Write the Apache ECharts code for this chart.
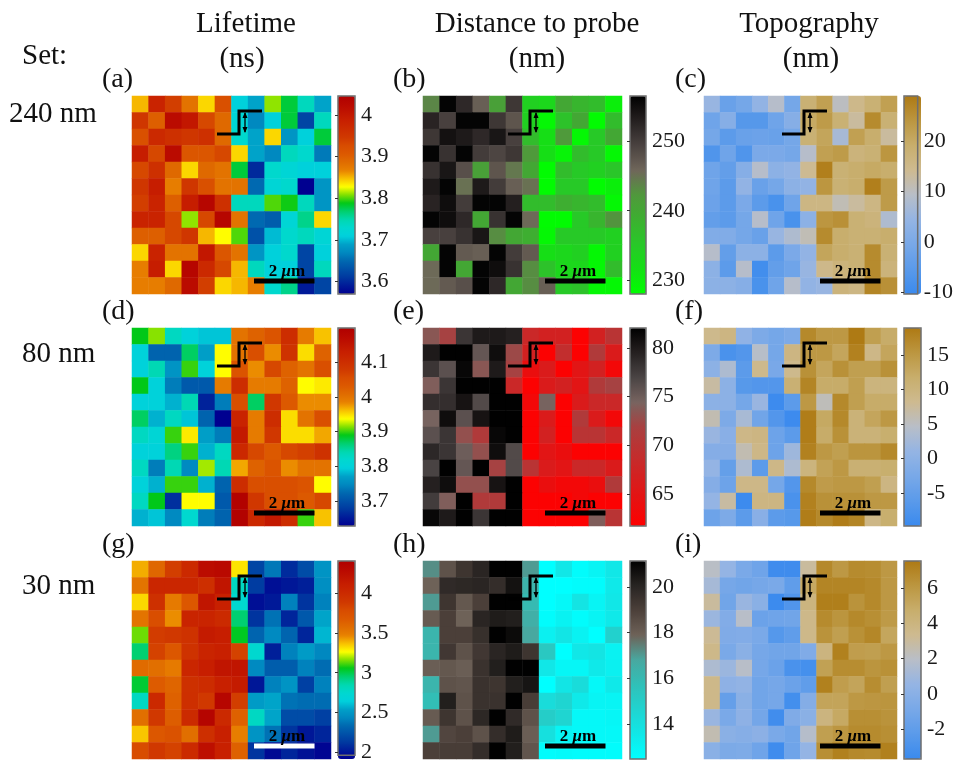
<!DOCTYPE html>
<html><head><meta charset="utf-8">
<style>html,body{margin:0;padding:0;background:#fff}#c{width:956px;height:763px}</style>
<script src="https://cdn.jsdelivr.net/npm/echarts@6/dist/echarts.min.js"></script></head>
<body><div id="c"></div>
<script>
const lifetime240=[
[3.85,3.98,3.94,3.88,3.84,3.92,3.71,3.69,3.81,3.78,3.74,3.69],
[3.95,3.90,4.02,4.00,3.93,3.89,3.72,3.67,3.71,3.78,3.62,3.74],
[3.92,3.97,3.96,3.95,3.96,3.89,3.73,3.69,3.84,3.68,3.71,3.78],
[3.99,3.93,4.02,3.91,3.91,3.93,3.84,3.69,3.67,3.74,3.73,3.66],
[3.93,3.96,3.89,3.84,3.89,3.88,3.78,3.60,3.73,3.72,3.71,3.71],
[3.95,3.99,3.87,3.95,3.92,3.88,3.88,3.65,3.72,3.73,3.57,3.68],
[3.94,3.98,3.90,3.99,4.03,3.96,3.74,3.74,3.80,3.79,3.74,3.68],
[3.98,3.98,3.93,3.81,3.93,4.03,3.88,3.65,3.64,3.72,3.76,3.84],
[3.90,3.90,3.93,3.95,3.85,3.828,3.80,3.63,3.70,3.73,3.74,3.72],
[3.84,3.98,3.88,3.88,4.00,3.91,3.88,3.68,3.71,3.73,3.62,3.71],
[3.87,3.99,3.84,4.03,3.97,3.93,3.85,3.74,3.71,3.71,3.62,3.74],
[3.87,3.87,3.89,4.02,3.94,3.84,3.85,3.87,3.73,3.76,3.59,3.62]];
const distance240=[
[243.5,256,252,246.5,241,250.5,234,233,240,238,237,230],
[252.5,249.5,256,256,250.5,247.5,234,229,236,240,228.5,237],
[250.5,254.5,253.5,252,254,249.5,237,232,242,229,235,240],
[256,251,256,250,249,250.5,242,232,229.5,237,235,229],
[251,254,248,241,247.5,244.5,240,228.5,237,235,234,235.5],
[253.5,256,245,253.5,250,246.5,245,228.5,235,235,228.5,230],
[252.5,255,250,256,256,253,237,237,239,238,237,229],
[256,255,252,240,251,256,245.5,228.5,228.5,235,238,242.5],
[249.5,249.5,251,254,243,240,239,229,235,235,235,234],
[240,256,247,246.5,256,250,247,232,233,234,229,234],
[245.5,256,240,256,255,251,243,236,233,233,229,237],
[245.5,247,248,256,252,240,243,246.5,235,236,229,229]];
const topo240=[
[5,-3,-1,4,9,-1,18,22,10,15,18,22],
[-2,2,-6,-6,-2,2,20,23,18,13,26,18],
[-1,-5,-3,-2.5,-3,-1,18,21,7,22,19,13],
[-7,-2,-7,0,0,-1,9,22,23,17,18,24],
[-2,-4,2,9,3,4,14,28,18,19,20,19],
[-2,-5,4,-3,-1,3,4,24,18,19,28,23],
[-2.5,-5,0,-5,-8,-2,16,16,11,13,16,23],
[-4,-5,-1,9,-2,-8,3,24,25,18,17,8],
[1,1,-1,-3,5,8,11,26,19,18,18,19],
[9,-4,3,3,-5,0,4,21,19,18,26,18],
[3,-5,9,-9,-4,-2,5,15,17,18,26,17],
[3,3,2,-8,-2,9,4,5,17,16,27,25]];
const lifetime80=[
[3.89,3.915,3.83,3.80,3.79,3.79,4.00,4.02,4.04,4.10,3.99,3.96],
[3.80,3.72,3.72,3.87,3.77,3.938,4.00,4.05,3.98,4.09,3.95,4.02],
[3.80,3.84,3.76,3.90,3.80,3.938,4.04,3.98,4.06,4.02,4.00,4.05],
[3.89,3.80,3.74,3.71,3.71,3.99,4.10,3.99,3.99,4.02,3.938,3.945],
[3.80,3.80,3.78,3.84,3.66,3.74,4.05,3.87,4.08,4.03,3.98,3.98],
[3.87,3.78,3.83,3.79,3.72,3.63,4.12,3.99,4.10,3.95,4.00,4.05],
[3.83,3.81,3.90,3.945,3.77,3.74,4.14,3.99,4.08,3.95,3.95,3.97],
[3.80,3.80,3.86,3.90,3.78,3.83,4.11,4.06,4.03,4.06,4.07,4.09],
[3.83,3.74,3.84,3.75,3.92,3.84,3.97,4.02,4.04,3.98,4.00,4.00],
[3.80,3.78,3.90,3.90,3.78,3.72,4.10,4.05,4.05,4.05,4.04,3.938],
[3.83,3.89,3.67,3.938,3.938,3.71,4.19,4.08,4.05,4.05,4.03,4.06],
[3.78,3.79,3.75,3.82,3.74,3.72,4.19,4.11,4.14,4.10,3.90,3.96]];
const distance80=[
[73.5,72,78,80,80,79.5,68,67,67,62,67,70],
[80,82,82,75.5,81,72.5,67,62,69,62,71,66],
[78,76,81.5,73.5,80,72,64,66,62,65,67,63],
[74,78,82,82,82,68,62,66,67,65,71,72],
[78.5,78.5,80.5,76.5,82,82,63,74.5,62,66,68,68],
[74.5,81,76,80.5,82,82,62,66,62,71,66,63],
[76,78,73,71,81.5,82,62,67,62,70,70,68],
[79,78,75,73,81,76.5,62,65,64,62,62,62],
[77,82,75.5,82,72,76.5,70,66,65,68,68,66],
[79.5,81,73,73,80.5,82,62,64,63,63,64,71],
[77.5,74,82,71,71,82,62,62,62,63,62,62],
[81.5,80,82,78,82,82,62,62,62,62,74,70]];
const topo80=[
[8.5,9.5,0.5,-2,-3,-2,17,15,15,19,14,12],
[-2,-8,-7,4.5,-3,9.5,15,15,13,18,9,13],
[0,3.5,-6,8.5,-2.5,8.5,16,13,16,14,14,16],
[7,0,-6.5,-7,-7,11,17.5,12,12,14,10,10],
[0,0,-3,1.5,-9.5,-6,15,5.5,17,14,12,12],
[6,-2,3,-3.5,-7,-9.5,18.5,12.5,17,10.5,13,15],
[1.5,-0.5,9,9.5,-4,-6,18.5,12,16,10.5,10.5,11.5],
[-1,-1,6,9,-4,2,18,15,14,15.5,15.5,17],
[1,-5,3.5,-6,9,3.5,10,13.5,15,11,11,11.5],
[-1,-4,9,9,-3,-7,17,14.5,15,15,14,9.5],
[1,7,-9.5,9.5,9.5,-8,18,16,16,16,15,15],
[-4,-2,-6,-0.5,-6,-6.5,18.5,17,18.5,17.5,9,11.5]];
const lifetime30=[
[3.42,3.62,3.87,4.03,4.27,4.30,3.33,2.22,2.42,2.12,2.25,2.52],
[3.55,4.05,4.05,4.05,3.98,4.2,2.82,2.18,2.02,2.05,2.08,2.50],
[3.35,3.97,3.52,3.70,4.2,4.1,2.78,2.02,2.06,2.45,2.15,2.45],
[3.55,3.78,3.47,4.07,4.07,4.02,2.98,2.15,2.40,2.10,2.30,2.58],
[3.17,3.88,3.9,3.95,4.15,4.12,3.07,2.35,2.48,2.35,2.1,2.62],
[2.98,3.85,3.7,3.95,4.07,4.1,3.85,2.78,2.08,2.45,2.55,2.47],
[3.6,3.58,3.52,4.05,4.12,4.2,4.2,2.48,2.32,2.32,2.45,2.38],
[3.05,3.68,3.63,3.97,4.0,4.1,4.15,2.05,2.45,2.52,2.2,2.45],
[2.82,4.03,3.65,3.98,3.9,4.33,3.87,2.55,2.58,2.4,2.38,2.38],
[3.58,3.9,3.67,4.02,4.35,4.03,3.65,2.82,2.58,2.25,2.25,2.2],
[3.38,3.7,3.75,3.58,3.98,4.1,3.5,2.52,2.4,2.15,2.05,2.1],
[3.8,3.9,3.85,4.02,4.25,4.1,3.65,2.15,2.0,2.1,2.03,1.98]];
const distance30=[
[17.2,18.4,19.4,20,21.1,21.1,17,12.5,13.6,12.6,13,13.6],
[17.9,19.8,19.9,20,19.7,20.6,16.3,12.5,12.5,12.6,12.6,13.5],
[17,19.4,18.2,19,21.1,21.1,16,12.5,12.8,13.8,13,13.6],
[18.1,19,17.9,20,20.3,20.2,16.5,12.6,13.1,12.6,13,13.5],
[16.2,19,19,19.6,21.1,20.8,16.8,13.2,13.7,13.1,12.5,14.8],
[16.2,19.3,18.4,19.3,20,20.3,19.4,15.3,12.5,13.6,13.8,13.1],
[18,18.2,18,19.5,20.2,21.1,21.1,13.6,12.9,12.9,13.5,13.2],
[16.2,18.4,18.3,19.5,19.4,20.2,20.5,12.5,13.7,14.2,12.8,13.5],
[15.8,20.2,18.4,19.5,19.5,21.1,19.1,14.2,14.6,13.5,13,13],
[18.1,19.4,18.4,19.9,21.1,19.8,18.4,15,14.6,12.8,12.8,12.9],
[17,18.8,19,18.4,19.7,20.3,18,14,13,12.8,12.8,12.8],
[19,19.1,19.1,19.7,21.1,20.2,18.3,12.6,12.7,12.6,12.6,12.6]];
const topo30=[
[2,0.5,-0.8,-1.3,-3.5,-3.5,3,6.8,6,6.7,6.6,6],
[1.2,-1,-1.2,-1,-0.8,-2,5,7,7,7,6.8,6],
[3,-1.2,0.7,0,-3.6,-2.7,4,7.3,7.3,6.3,6.8,6],
[0.8,-0.4,1.9,-1.5,-1.3,-1.2,3.6,6.7,6.2,6.8,6.5,5.9],
[3.2,-0.5,-0.4,-0.8,-2.5,-2,3.6,6.3,5.6,6.4,6.9,5.2],
[3.6,-0.8,0,-1,-1.2,-1.2,-0.5,4,7.2,5.7,5.6,6],
[1.5,0.8,1.9,-1,-1.5,-3,-3.2,5.5,6.6,6.6,6.2,6.4],
[3.6,0.2,0.4,-1.2,-1,-1.5,-2,7.2,5.7,5.3,6.6,5.6],
[3.6,-1.8,0,-1.2,-1,-3.3,-0.3,5.3,5.3,6,6.1,6.2],
[0.7,-0.8,0.2,-1.1,-3.4,-0.5,0,4,5,6.5,6.5,6.3],
[2.5,0,-0.2,0.1,-0.8,-1.2,1.8,5.6,6.1,6.7,6.7,6.5],
[0,-0.7,-0.6,-1.3,-3.5,-1.3,0.5,6.5,7.2,6.8,6.7,7.2]];

const ticksLife240=[3.6,3.7,3.8,3.9,4];
const ticksDist240=[230,240,250];
const ticksTopo240=[-10,0,10,20];
const ticksLife80=[3.7,3.8,3.9,4,4.1];
const ticksDist80=[65,70,75,80];
const ticksTopo80=[-5,0,5,10,15];
const ticksLife30=[2,2.5,3,3.5,4];
const ticksDist30=[14,16,18,20];
const ticksTopo30=[-2,0,2,4,6];

const jet=['#000090','#001a98','#0038a0','#0050a8','#0068b0','#0088c0','#00a0c8','#00d0dc','#00d8d0','#00d8b0','#00d070','#00c818','#80e000','#ffff00','#f8c000','#e88000','#e06c00','#dc5800','#d84c00','#d03800','#cc2c00','#c82000','#c01400','#b80800','#b00000'];
const rampGreen=['#00ff00','#14e014','#28c828','#3cb030','#50983c','#70665a','#4a4240','#252020','#000000'];
const rampRed=['#ff0000','#e81010','#d42020','#bf3030','#a84040','#786460','#4a4444','#252020','#000000'];
const rampCyan=['#00ffff','#10e8e8','#20d4d0','#30c0b8','#48a8a0','#6e6258','#4c403a','#282422','#000000'];
const rampTopo=['#3a8aee','#5a9aea','#78a8e8','#94b4e4','#b8bec8','#ceba90','#c8ae6c','#bc9640','#ae7a14'];

const colX=[{x:132,w:199,bx:338,bw:17},{x:423,w:199,bx:630,bw:16},{x:704,w:193,bx:904,bw:17}];
const rowY=[96,328,561];
const H=198;
const panels=[
{d:lifetime240,c:jet,min:3.57,max:4.045,t:ticksLife240,r:0,k:0,l:'(a)'},
{d:distance240,c:rampGreen,min:228.1,max:256.4,t:ticksDist240,r:0,k:1,l:'(b)'},
{d:topo240,c:rampTopo,min:-10.3,max:28.9,t:ticksTopo240,r:0,k:2,l:'(c)'},
{d:lifetime80,c:jet,min:3.63,max:4.197,t:ticksLife80,r:1,k:0,l:'(d)'},
{d:distance80,c:rampRed,min:61.7,max:82.05,t:ticksDist80,r:1,k:1,l:'(e)'},
{d:topo80,c:rampTopo,min:-9.8,max:18.9,t:ticksTopo80,r:1,k:2,l:'(f)'},
{d:lifetime30,c:jet,min:1.96,max:4.41,t:ticksLife30,r:2,k:0,l:'(g)'},
{d:distance30,c:rampCyan,min:12.48,max:21.13,t:ticksDist30,r:2,k:1,l:'(h)'},
{d:topo30,c:rampTopo,min:-3.7,max:7.53,t:ticksTopo30,r:2,k:2,l:'(i)'}];

const serif='"Liberation Serif","Times New Roman",serif';
const cats=[...Array(12).keys()];
const grid=[],xAxis=[],yAxis=[],series=[],visualMap=[],graphic=[];

function txt(s,x,y,align,size){graphic.push({type:'text',z:20,x,y:y+2,style:{text:s,fontFamily:serif,fontSize:size||29,fill:'#111',align:align||'left',verticalAlign:'middle'}});}
function overlay(px,py,off,white){
  const ix=px+off.icon, iy=py+38;
  graphic.push({type:'polyline',z:20,shape:{points:[[ix,iy],[ix+22,iy],[ix+22,iy-23],[ix+45,iy-23]]},style:{stroke:'#000',lineWidth:3,fill:null}});
  const ax=ix+28;
  graphic.push({type:'line',z:20,shape:{x1:ax,y1:iy-21,x2:ax,y2:iy-2},style:{stroke:'#000',lineWidth:1.3}});
  graphic.push({type:'polygon',z:20,shape:{points:[[ax,iy-22],[ax-2.5,iy-16],[ax+2.5,iy-16]]},style:{fill:'#000'}});
  graphic.push({type:'polygon',z:20,shape:{points:[[ax,iy-1],[ax-2.5,iy-7],[ax+2.5,iy-7]]},style:{fill:'#000'}});
  const col=white?'#fff':'#000';
  const by=py+185;
  graphic.push({type:'rect',z:20,shape:{x:px+off.bar,y:by-2.5,width:60.5,height:5},style:{fill:col}});
  graphic.push({type:'text',z:21,x:px+off.bar+33,y:by-9,style:{text:'2 {i|μ}m',fontFamily:serif,fontSize:17,fontWeight:'bold',fill:'#000',align:'center',verticalAlign:'middle',rich:{i:{fontFamily:serif,fontStyle:'italic',fontWeight:'bold',fontSize:17,fill:'#000'}}}});
}

panels.forEach((p,i)=>{
  const cx=colX[p.k], top=rowY[p.r];
  grid.push({left:cx.x,top,width:cx.w,height:H,show:false});
  xAxis.push({gridIndex:i,type:'category',data:cats,show:false});
  yAxis.push({gridIndex:i,type:'category',data:cats,inverse:true,show:false});
  const data=[];
  p.d.forEach((row,r)=>row.forEach((v,c)=>data.push([c,r,v])));
  series.push({type:'heatmap',xAxisIndex:i,yAxisIndex:i,data,silent:true,progressive:0,itemStyle:{borderWidth:0}});
  visualMap.push({type:'continuous',seriesIndex:i,min:p.min,max:p.max,inRange:{color:p.c},calculable:false,hoverLink:false,show:true,left:cx.bx,top,itemWidth:cx.bw,itemHeight:H,padding:0,text:['',''],textGap:0,showLabel:false,z:3});
});
panels.forEach((p,i)=>{
  const cx=colX[p.k], top=rowY[p.r], j=i+9;
  grid.push({left:cx.bx,top,width:cx.bw,height:H,show:true,backgroundColor:'transparent',borderColor:'#6e6e6e',borderWidth:1.5,z:6});
  xAxis.push({gridIndex:j,type:'value',show:false,min:0,max:1});
  yAxis.push({gridIndex:j,type:'value',position:'right',min:p.min,max:p.max,z:7,splitLine:{show:false},
    axisLine:{show:false},
    axisTick:{show:true,inside:true,length:3,customValues:p.t,lineStyle:{color:'#333',width:1}},
    axisLabel:{show:true,customValues:p.t,margin:6,padding:[3,0,0,0],hideOverlap:false,formatter:v=>String(v),fontFamily:serif,fontSize:22,color:'#1a1a1a'}});
  series.push({type:'scatter',xAxisIndex:j,yAxisIndex:j,data:[],silent:true});
  const off=p.k===2?{icon:78,bar:116}:{icon:85,bar:122};
  overlay(colX[p.k].x,top,off,i===6);
  const lx=[102,393,675][p.k];
  txt(p.l,lx,top-18,'left',28);
});
txt('Lifetime',246,22,'center');txt('(ns)',242,57,'center');
txt('Distance to probe',537,22,'center');txt('(nm)',537,57,'center');
txt('Topography',809,22,'center');txt('(nm)',811,57,'center');
txt('Set:',22,54);txt('240 nm',9,112);txt('80 nm',22,352);txt('30 nm',22,584);

const chart=echarts.init(document.getElementById('c'),null,{renderer:'canvas'});
chart.setOption({animation:false,backgroundColor:'#fff',grid,xAxis,yAxis,visualMap,series,graphic});
</script></body></html>
